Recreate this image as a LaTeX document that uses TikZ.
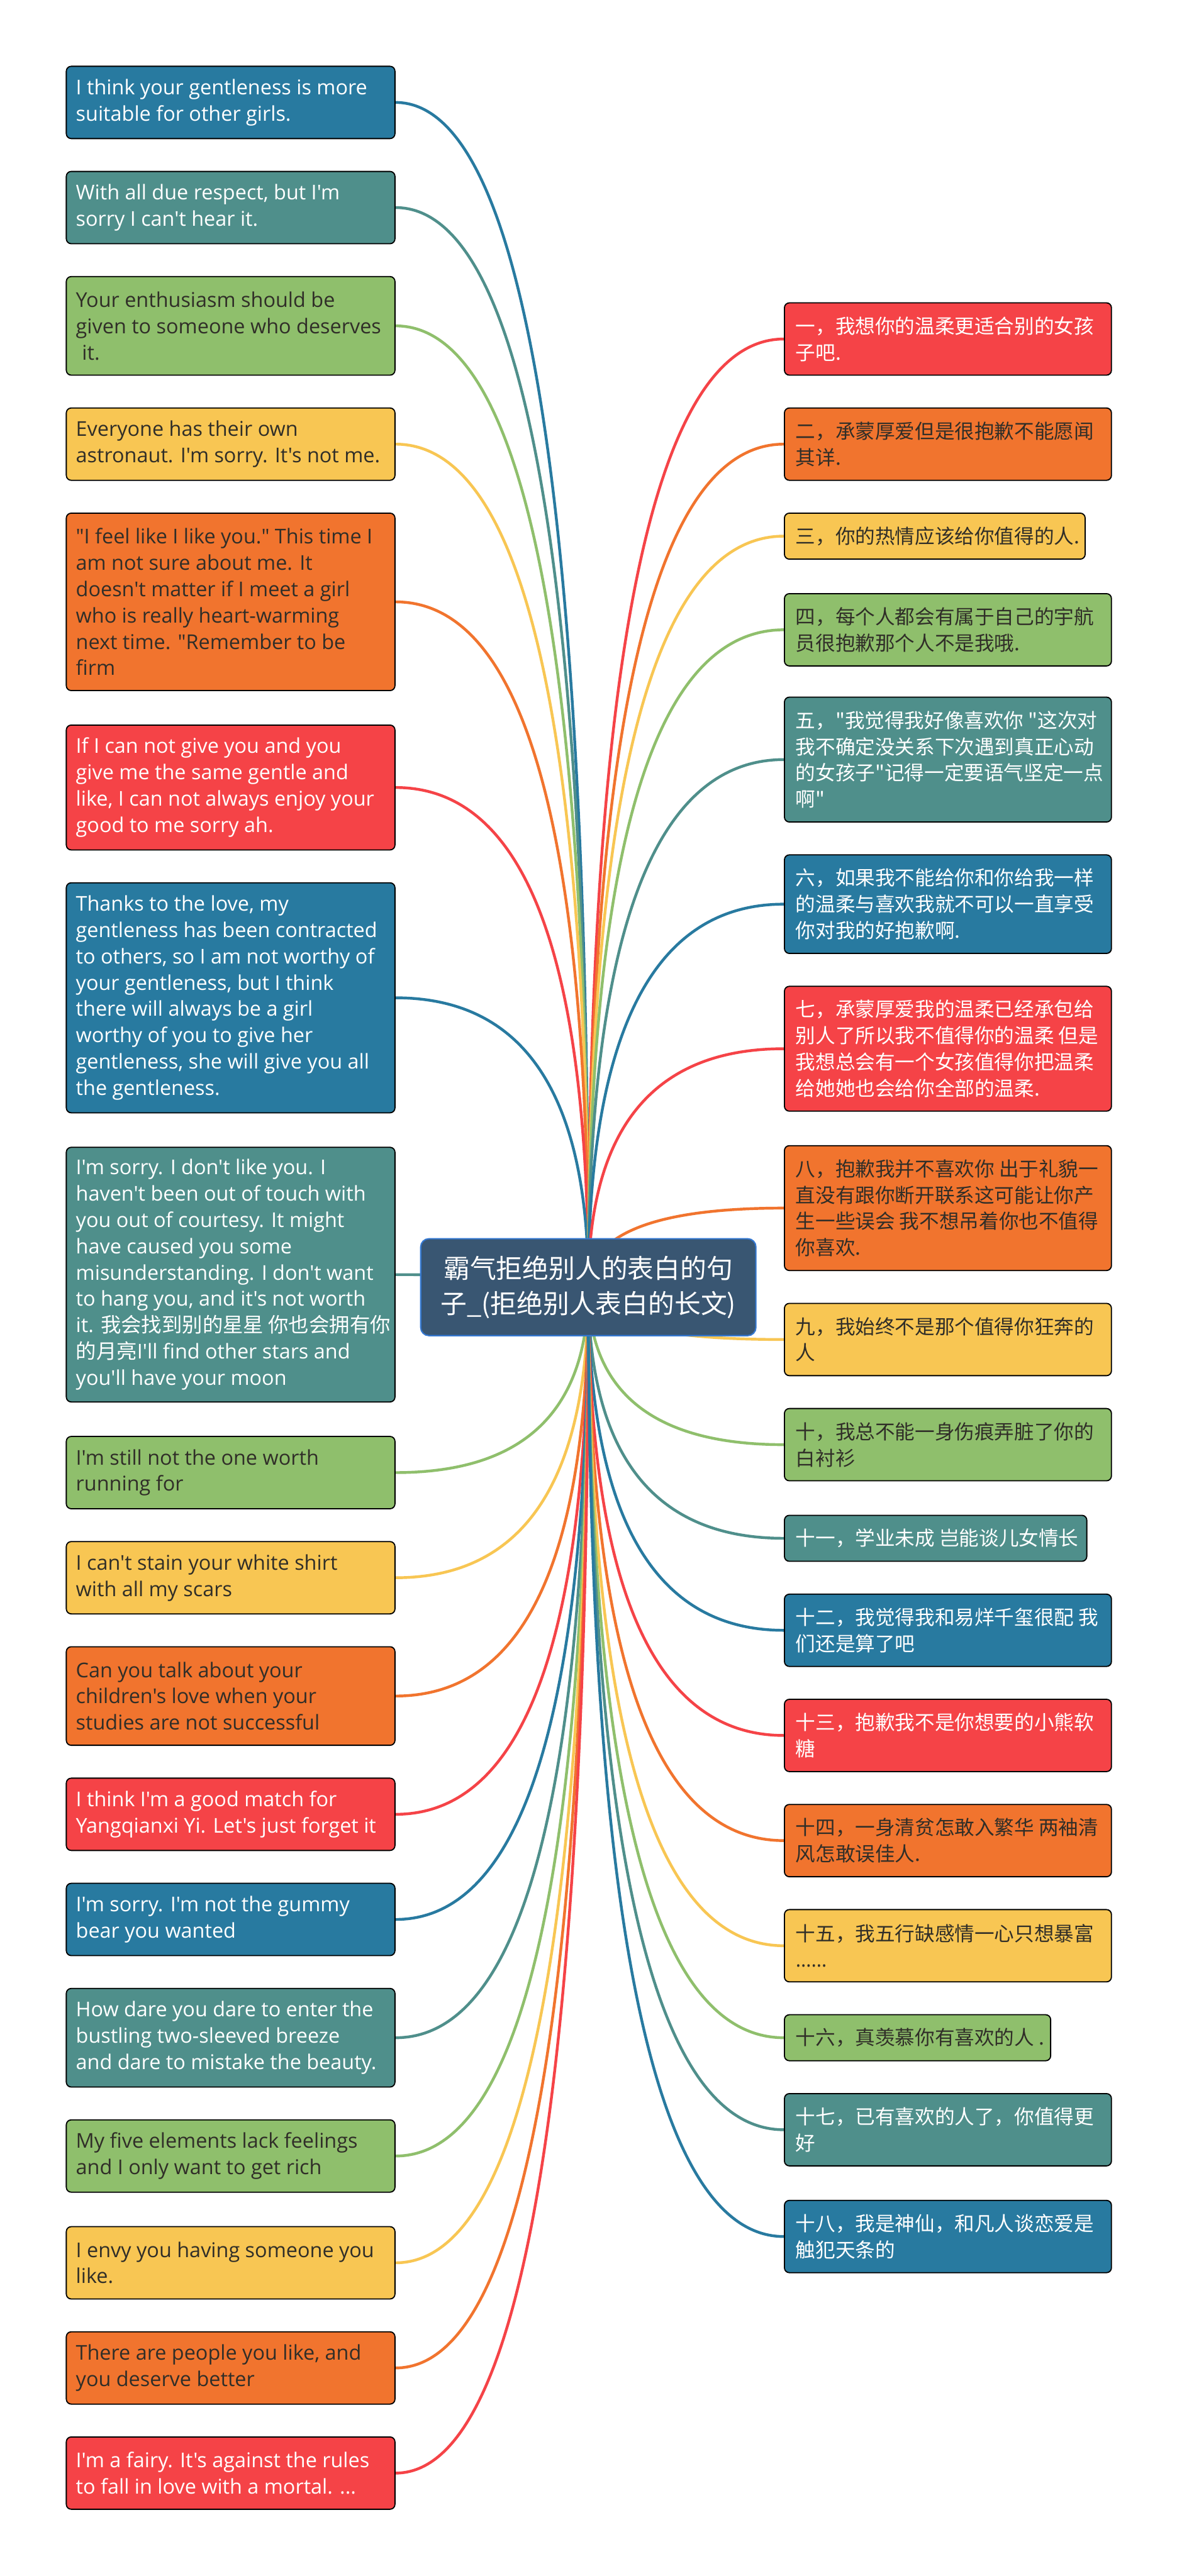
\documentclass[tikz,border=0pt]{standalone}
\usepackage{fontspec}
\newfontfamily\enf{Open Sans}
\newfontfamily\cjk{Noto Sans CJK SC}
\usetikzlibrary{calc,backgrounds}
\definecolor{cBlue}{RGB}{40,122,160}
\definecolor{cTeal}{RGB}{79,143,139}
\definecolor{cGreen}{RGB}{143,191,108}
\definecolor{cYellow}{RGB}{248,198,83}
\definecolor{cOrange}{RGB}{241,116,46}
\definecolor{cRed}{RGB}{245,67,71}
\definecolor{cDark}{RGB}{48,46,40}
\definecolor{rootFill}{RGB}{57,86,114}
\definecolor{rootLine}{RGB}{52,120,210}
\tikzset{
  box/.style={draw=black, line width=0.7pt, rounded corners=3pt, inner sep=0pt, anchor=north west},
  txt/.style={anchor=west, align=left, inner sep=0pt},
  entxt/.style={txt, font=\enf\fontsize{12.4}{16}\selectfont},
  cjtxt/.style={txt, font=\cjk\fontsize{12.1}{16}\selectfont},
  conn/.style={line width=1.7pt},
  rootbox/.style={draw=rootLine, fill=rootFill, line width=0.8pt, rounded corners=5pt,
    minimum width=204pt, minimum height=59pt, inner sep=0pt, text=white, align=center,
    font=\cjk\fontsize{16}{21.5}\selectfont}
}
\newcommand\lbox[6]{%
  \node[box, fill=#4, minimum width=200pt, minimum height=#3pt] (#1) at (40,-#2) {};
  \node[entxt, text=#5] (#1t) at ([xshift=6pt]#1.west) {#6};}
\newcommand\rbox[7]{%
  \node[box, fill=#5, minimum width=#4pt, minimum height=#3pt] (#1) at (477,-#2) {};
  \node[cjtxt, text=#6] (#1t) at ([xshift=7pt]#1.west) {#7};}
\begin{document}
\begin{tikzpicture}[x=1pt,y=1pt]
\useasboundingbox (0,0) rectangle (716,-1568);

\node[rootbox] (root) at (358,-783.5) {霸气拒绝别人的表白的句\\子\_(拒绝别人表白的长文)};

\lbox{L1}{40}{44}{cBlue}{white}{I think your gentleness is more\\suitable for other girls.}
\lbox{L2}{104}{44}{cTeal}{white}{With all due respect, but I'm\\sorry I can't hear it.}
\lbox{L3}{168}{60}{cGreen}{cDark}{Your enthusiasm should be\\given to someone who deserves\\\hspace{0.3em}it.}
\lbox{L4}{248}{44}{cYellow}{cDark}{Everyone has their own\\astronaut. I'm sorry. It's not me.}
\lbox{L5}{312}{108}{cOrange}{cDark}{"I feel like I like you." This time I\\am not sure about me. It\\doesn't matter if I meet a girl\\who is really heart-warming\\next time. "Remember to be\\firm}
\lbox{L6}{441}{76}{cRed}{white}{If I can not give you and you\\give me the same gentle and\\like, I can not always enjoy your\\good to me sorry ah.}
\lbox{L7}{537}{140}{cBlue}{white}{Thanks to the love, my\\gentleness has been contracted\\to others, so I am not worthy of\\your gentleness, but I think\\there will always be a girl\\worthy of you to give her\\gentleness, she will give you all\\the gentleness.}
\lbox{L8}{698}{155}{cTeal}{white}{I'm sorry. I don't like you. I\\haven't been out of touch with\\you out of courtesy. It might\\have caused you some\\misunderstanding. I don't want\\to hang you, and it's not worth\\it. {\cjk 我会找到别的星星 你也会拥有你}\\{\cjk 的月亮}I'll find other stars and\\you'll have your moon}
\lbox{L9}{874}{44}{cGreen}{cDark}{I'm still not the one worth\\running for}
\lbox{L10}{938}{44}{cYellow}{cDark}{I can't stain your white shirt\\with all my scars}
\lbox{L11}{1002}{60}{cOrange}{cDark}{Can you talk about your\\children's love when your\\studies are not successful}
\lbox{L12}{1082}{44}{cRed}{white}{I think I'm a good match for\\Yangqianxi Yi. Let's just forget it}
\lbox{L13}{1146}{44}{cBlue}{white}{I'm sorry. I'm not the gummy\\bear you wanted}
\lbox{L14}{1210}{60}{cTeal}{white}{How dare you dare to enter the\\bustling two-sleeved breeze\\and dare to mistake the beauty.}
\lbox{L15}{1290}{44}{cGreen}{cDark}{My five elements lack feelings\\and I only want to get rich}
\lbox{L16}{1355}{44}{cYellow}{cDark}{I envy you having someone you\\like.}
\lbox{L17}{1419}{44}{cOrange}{cDark}{There are people you like, and\\you deserve better}
\lbox{L18}{1483}{44}{cRed}{white}{I'm a fairy. It's against the rules\\to fall in love with a mortal. ...}

\rbox{R1}{184}{44}{199}{cRed}{white}{一，我想你的温柔更适合别的女孩\\子吧.}
\rbox{R2}{248}{44}{199}{cOrange}{cDark}{二，承蒙厚爱但是很抱歉不能愿闻\\其详.}
\rbox{R3}{312}{28}{183}{cYellow}{cDark}{三，你的热情应该给你值得的人.}
\rbox{R4}{361}{44}{199}{cGreen}{cDark}{四，每个人都会有属于自己的宇航\\员很抱歉那个人不是我哦.}
\rbox{R5}{424}{76}{199}{cTeal}{white}{五，"我觉得我好像喜欢你 "这次对\\我不确定没关系下次遇到真正心动\\的女孩子"记得一定要语气坚定一点\\啊"}
\rbox{R6}{520}{60}{199}{cBlue}{white}{六，如果我不能给你和你给我一样\\的温柔与喜欢我就不可以一直享受\\你对我的好抱歉啊.}
\rbox{R7}{600}{76}{199}{cRed}{white}{七，承蒙厚爱我的温柔已经承包给\\别人了所以我不值得你的温柔 但是\\我想总会有一个女孩值得你把温柔\\给她她也会给你全部的温柔.}
\rbox{R8}{697}{76}{199}{cOrange}{cDark}{八，抱歉我并不喜欢你 出于礼貌一\\直没有跟你断开联系这可能让你产\\生一些误会 我不想吊着你也不值得\\你喜欢.}
\rbox{R9}{793}{44}{199}{cYellow}{cDark}{九，我始终不是那个值得你狂奔的\\人}
\rbox{R10}{857}{44}{199}{cGreen}{cDark}{十，我总不能一身伤痕弄脏了你的\\白衬衫}
\rbox{R11}{922}{28}{184}{cTeal}{white}{十一，学业未成 岂能谈儿女情长}
\rbox{R12}{970}{44}{199}{cBlue}{white}{十二，我觉得我和易烊千玺很配 我\\们还是算了吧}
\rbox{R13}{1034}{44}{199}{cRed}{white}{十三，抱歉我不是你想要的小熊软\\糖}
\rbox{R14}{1098}{44}{199}{cOrange}{cDark}{十四，一身清贫怎敢入繁华 两袖清\\风怎敢误佳人.}
\rbox{R15}{1162}{44}{199}{cYellow}{cDark}{十五，我五行缺感情一心只想暴富\\{\enf ……}}
\rbox{R16}{1226}{28}{162}{cGreen}{cDark}{十六，真羡慕你有喜欢的人 .}
\rbox{R17}{1274}{44}{199}{cTeal}{white}{十七，已有喜欢的人了，你值得更\\好}
\rbox{R18}{1339}{44}{199}{cBlue}{white}{十八，我是神仙，和凡人谈恋爱是\\触犯天条的}

\begin{scope}[on background layer]
\fill[white] (0,0) rectangle (716,-1568);
\foreach \n/\col in {L1/cBlue,L2/cTeal,L3/cGreen,L4/cYellow,L5/cOrange,L6/cRed,L7/cBlue,L8/cTeal,L9/cGreen,L10/cYellow,L11/cOrange,L12/cRed,L13/cBlue,L14/cTeal,L15/cGreen,L16/cYellow,L17/cOrange,L18/cRed}{
  \draw[conn, draw=\col] (root.center) .. controls ($(root.center)!0.6667!(root.center |- \n.east)$) and ($(\n.east)!0.6667!(root.center |- \n.east)$) .. (\n.east);
}
\foreach \n/\col in {R1/cRed,R2/cOrange,R3/cYellow,R4/cGreen,R5/cTeal,R6/cBlue,R7/cRed,R8/cOrange,R9/cYellow,R10/cGreen,R11/cTeal,R12/cBlue,R13/cRed,R14/cOrange,R15/cYellow,R16/cGreen,R17/cTeal,R18/cBlue}{
  \draw[conn, draw=\col] (root.center) .. controls ($(root.center)!0.6667!(root.center |- \n.west)$) and ($(\n.west)!0.6667!(root.center |- \n.west)$) .. (\n.west);
}
\end{scope}
\end{tikzpicture}
\end{document}
